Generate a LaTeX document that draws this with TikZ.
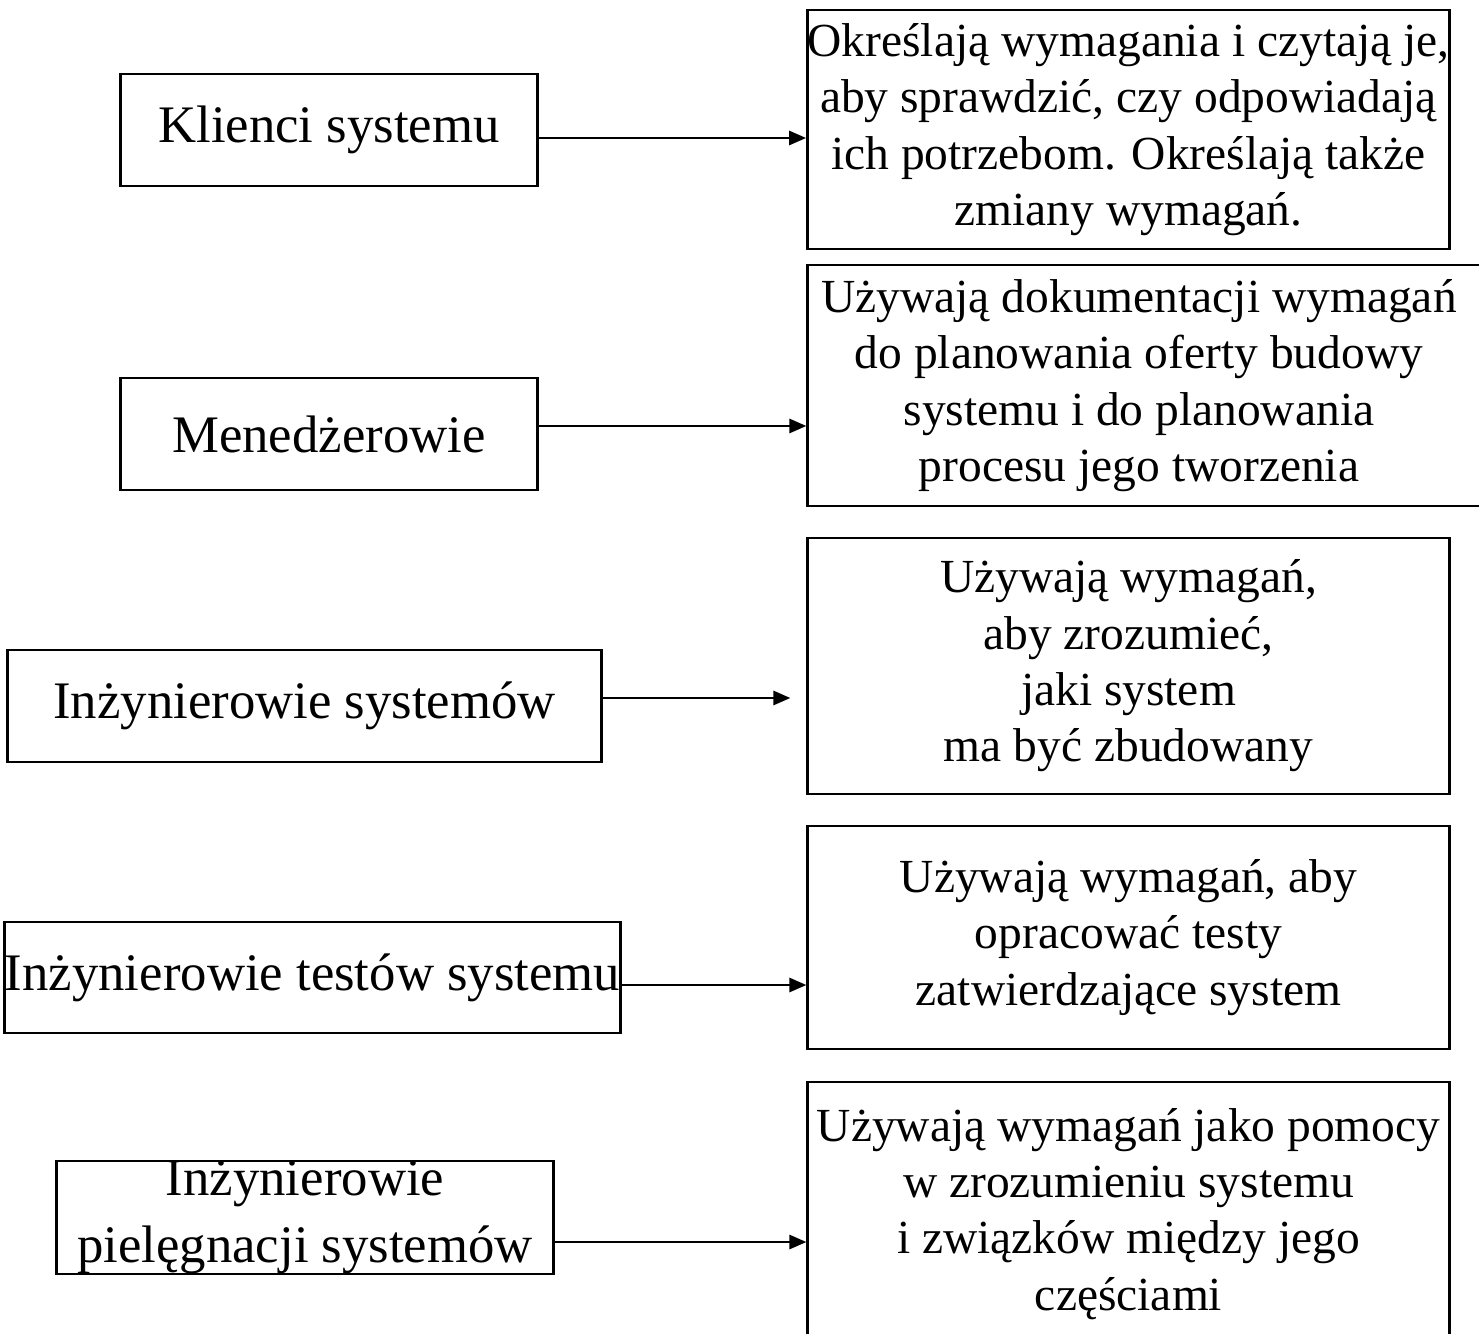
\documentclass[tikz,border=0pt]{standalone}
\usepackage{fontspec}
\setmainfont{Liberation Serif}
\usetikzlibrary{arrows.meta}

\tikzset{
  kto/.style={draw, line width=0.8pt, inner sep=0pt, align=center,
    font=\fontsize{15}{16}\selectfont},
  opis/.style={kto, font=\fontsize{13.5}{16}\selectfont},
  strz/.style={line width=0.8pt, -{Triangle[length=1.7mm,width=1.4mm]}}
}

\begin{document}
\begin{tikzpicture}[x=0.01cm,y=-0.01cm]
\useasboundingbox (0,0) rectangle (1479,1334);
% kto korzysta z dokumentu wymagan
\node[kto, minimum width=4.16cm, minimum height=1.12cm] (klienci) at (329,130) {Klienci systemu};
\node[kto, minimum width=4.16cm, minimum height=1.12cm] (menedz) at (329,434) {Menedżerowie};
\node[kto, minimum width=5.93cm, minimum height=1.12cm] (inzsys) at (304.5,706) {Inżynierowie systemów};
\node[kto, minimum width=6.09cm, minimum height=1.11cm] (inztest) at (312.5,977.5) {Inżynierowie testów systemu};
\node[kto, minimum width=4.96cm, minimum height=1.11cm] (inzpiel) at (305,1217.5) {Inżynierowie\\[3pt] pielęgnacji systemów};
% do czego
\node[opis, minimum width=6.41cm, minimum height=2.39cm] (opisklienci) at (1128.5,129.5)
  {Określają wymagania i czytają je,\\ aby sprawdzić, czy odpowiadają\\ ich potrzebom. Określają także\\ zmiany wymagań.};
\node[opis, minimum width=6.82cm, minimum height=2.41cm] (opismenedz) at (1149,385.5)
  {\hspace*{-0.2cm}Używają dokumentacji wymagań\\ \hspace*{-0.2cm}do planowania oferty budowy\\ \hspace*{-0.2cm}systemu i do planowania\\ \hspace*{-0.2cm}procesu jego tworzenia};
\node[opis, minimum width=6.41cm, minimum height=2.56cm] (opisinzsys) at (1128.5,666)
  {Używają wymagań,\\ aby zrozumieć,\\ jaki system\\ ma być zbudowany};
\node[opis, minimum width=6.41cm, minimum height=2.23cm] (opisinztest) at (1128.5,937.5)
  {Używają wymagań, aby\\ opracować testy\\ zatwierdzające system};
\node[opis, minimum width=6.41cm, minimum height=2.64cm] (opisinzpiel) at (1128.5,1214)
  {Używają wymagań jako pomocy\\ w zrozumieniu systemu\\ i związków między jego\\ częściami};
% strzalki
\draw[strz] ([yshift=-0.08cm]klienci.east) -- ([yshift=-0.08cm]klienci.east -| opisklienci.west);
\draw[strz] ([yshift=0.08cm]menedz.east) -- ([yshift=0.08cm]menedz.east -| opismenedz.west);
\draw[strz] ([yshift=0.08cm]inzsys.east) -- ([yshift=0.08cm,xshift=-0.16cm]inzsys.east -| opisinzsys.west);
\draw[strz] ([yshift=-0.075cm]inztest.east) -- ([yshift=-0.075cm]inztest.east -| opisinztest.west);
\draw[strz] ([yshift=-0.245cm]inzpiel.east) -- ([yshift=-0.245cm]inzpiel.east -| opisinzpiel.west);
\end{tikzpicture}
\end{document}
